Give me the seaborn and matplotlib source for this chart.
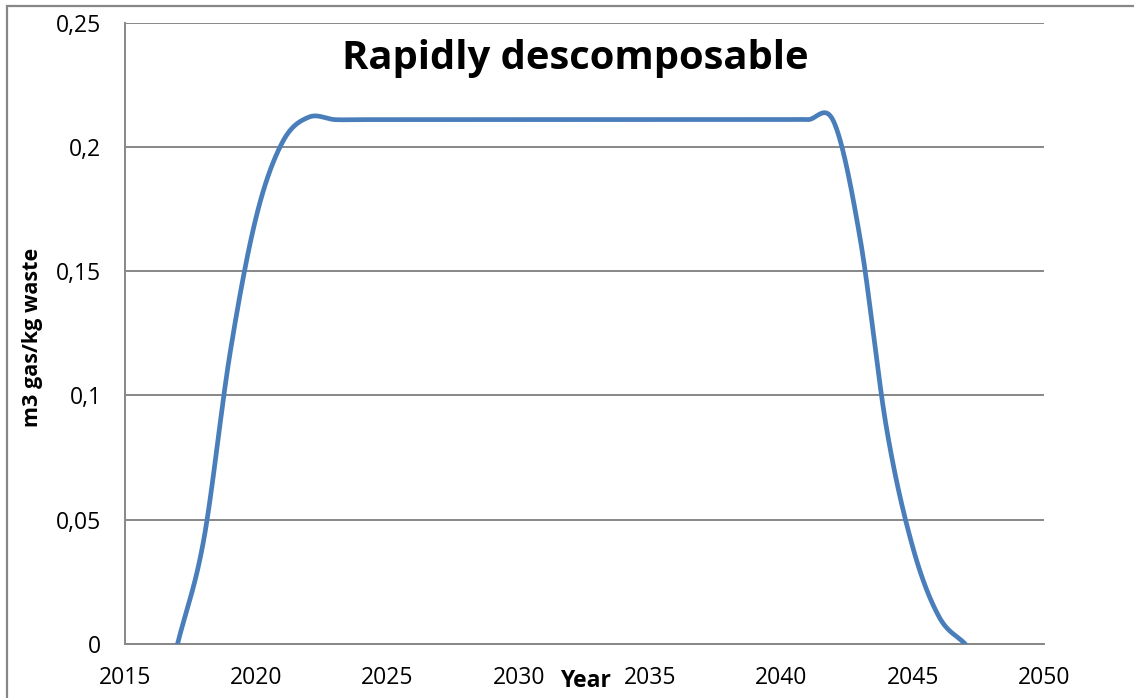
import numpy as np
import pandas as pd
import matplotlib
matplotlib.use("Agg")
import matplotlib.pyplot as plt
import seaborn as sns
from matplotlib.patches import Rectangle

# ---- data ----
years = list(range(2017, 2048))
values = [0.0, 0.042, 0.117, 0.172, 0.202, 0.212] + [0.211] * 19 + \
         [0.210, 0.163, 0.087, 0.039, 0.011, 0.0]
x_ticks = [2015, 2020, 2025, 2030, 2035, 2040, 2045, 2050]
y_ticks = [0, 0.05, 0.1, 0.15, 0.2, 0.25]
y_tick_labels = ["0", "0,05", "0,1", "0,15", "0,2", "0,25"]
title = "Rapidly descomposable"
x_label = "Year"
y_label = "m3 gas/kg waste"


def smooth(xs, ys, n=40):
    """Catmull-Rom smoothing like a spreadsheet 'smoothed line'."""
    xs = np.asarray(xs, float)
    ys = np.asarray(ys, float)
    px = np.concatenate([[2 * xs[0] - xs[1]], xs, [2 * xs[-1] - xs[-2]]])
    py = np.concatenate([[2 * ys[0] - ys[1]], ys, [2 * ys[-1] - ys[-2]]])
    ox, oy = [], []
    t = np.linspace(0, 1, n, endpoint=False)
    for i in range(1, len(px) - 2):
        p0, p1, p2, p3 = py[i - 1], py[i], py[i + 1], py[i + 2]
        m1 = (p2 - p0) / 2
        m2 = (p3 - p1) / 2
        h00 = 2 * t**3 - 3 * t**2 + 1
        h10 = t**3 - 2 * t**2 + t
        h01 = -2 * t**3 + 3 * t**2
        h11 = t**3 - t**2
        oy.extend(h00 * p1 + h10 * m1 + h01 * p2 + h11 * m2)
        ox.extend(px[i] + t * (px[i + 1] - px[i]))
    ox.append(xs[-1])
    oy.append(ys[-1])
    return np.array(ox), np.array(oy)


sx, sy = smooth(years, values)
df = pd.DataFrame({"year": sx, "value": sy})

sns.set_theme(style="white")
plt.rcParams["font.family"] = ["Open Sans", "DejaVu Sans"]
plt.rcParams["text.color"] = "black"

W, H = 1134, 698
fig = plt.figure(figsize=(W / 100, H / 100), dpi=100)
ax = fig.add_axes([125 / W, 1 - 644 / H, (1044 - 125) / W, (644 - 22.7) / H])

grid_c = "#878787"
sns.lineplot(data=df, x="year", y="value", ax=ax, color="#4A7EBB",
             linewidth=3.4, sort=False, zorder=3)

ax.set_xlim(2015, 2050)
ax.set_ylim(0, 0.25)
ax.set_xticks(x_ticks)
ax.set_xticklabels([str(v) for v in x_ticks])
ax.set_yticks(y_ticks)
ax.set_yticklabels(y_tick_labels)
ax.yaxis.grid(True, color=grid_c, linewidth=1.4)
ax.xaxis.grid(False)
for s in ["top", "right"]:
    ax.spines[s].set_visible(False)
for s in ["left", "bottom"]:
    ax.spines[s].set_color(grid_c)
    ax.spines[s].set_linewidth(1.4)
ax.tick_params(axis="both", which="major", direction="out", length=6,
               width=1.4, color=grid_c, labelsize=16.5, labelcolor="black")
ax.tick_params(axis="x", pad=10)
ax.tick_params(axis="y", pad=11)
ax.set_xlabel("")
ax.set_ylabel("")

fig.text(585 / W, 1 - 681 / H, x_label, ha="center", va="center",
         fontsize=16.5, fontweight="bold")
fig.text(33 / W, 1 - 337 / H, y_label, ha="center", va="center",
         rotation=90, fontsize=15.5, fontweight="bold")
fig.text(575 / W, 1 - 58 / H, title, ha="center", va="center",
         fontsize=28.8, fontweight="bold")

fig.patches.append(Rectangle((7 / W, -0.1), 1.2, 1 - 6 / H + 0.1,
                             transform=fig.transFigure, fill=False,
                             edgecolor=grid_c, linewidth=1.6,
                             clip_on=False))

fig.savefig("out.png", dpi=100)
